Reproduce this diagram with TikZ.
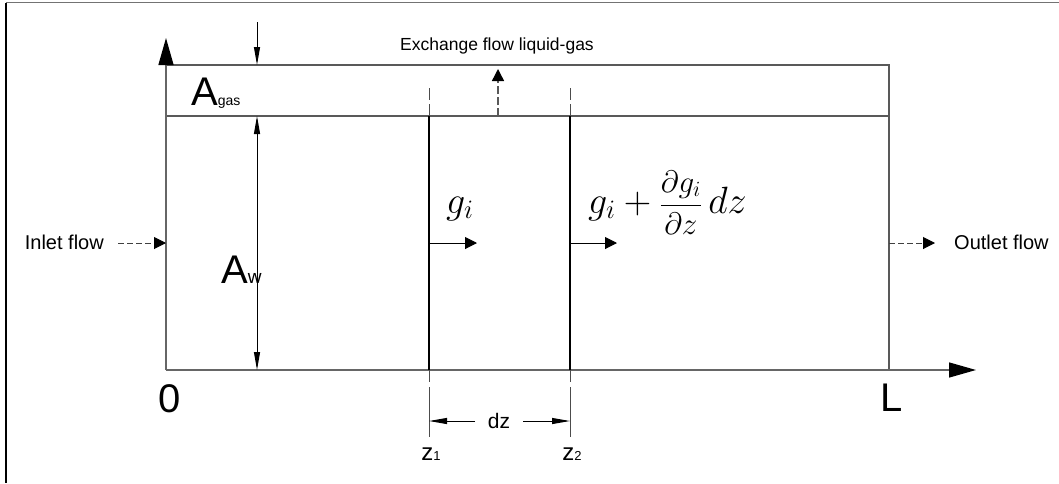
\RequirePackage{fix-cm}
\documentclass[tikz,border=0pt]{standalone}
\usepackage{fontspec}
\setmainfont{Liberation Sans}
\usetikzlibrary{arrows.meta}
\begin{document}
\begin{tikzpicture}[x=1pt,y=-1pt,
  boxline/.style={draw=black!65, line width=1.4pt},
  zline/.style={draw=black, line width=1.1pt},
  axisline/.style={draw=black!60, line width=1.4pt, -{Triangle[length=27pt,width=15pt,color=black]}},
  dimline/.style={draw=black, line width=1pt},
  dimtip/.tip={Triangle[length=18pt,width=6pt]},
  flowtip/.tip={Triangle[length=12pt,width=12pt,color=black]},
  flowarrow/.style={draw=black, line width=1pt, -flowtip},
  dashflow/.style={draw=black!75, line width=1pt, dash pattern=on 6pt off 3pt, -flowtip},
  extline/.style={draw=black!70, line width=0.9pt},
  lab/.style={inner sep=0pt, font=\fontsize{20}{22}\selectfont},
]
\useasboundingbox (0,0) rectangle (1059,483);
% outer frame
\draw[draw=black!55, line width=1.5pt] (1059,2.5) -- (6,2.5);
\draw[draw=black, line width=1.5pt] (6,2.5) -- (6,483);

% coordinates
\coordinate (O) at (166,370);
\coordinate (Xend) at (976,370);
\coordinate (Yend) at (166,38);
\coordinate (GT) at (166,65);
\coordinate (GTR) at (889,65);
\coordinate (ML) at (166,116);
\coordinate (MR) at (889,116);
\coordinate (BR) at (889,370);

% box
\draw[boxline] (GT) -- (GTR) -- (BR);
\draw[boxline] (ML) -- (MR);
\draw[axisline] (O) -- (Yend);
\draw[axisline] (O) -- (Xend);

% z lines
\coordinate (z1t) at (429,116); \coordinate (z1b) at (429,370);
\coordinate (z2t) at (570,116); \coordinate (z2b) at (570,370);
\draw[zline] (z1t) -- (z1b);
\draw[zline] (z2t) -- (z2b);
% extension lines
\coordinate (z1u) at (429,88); \coordinate (z1d) at (429,437);
\coordinate (z2u) at (570,88); \coordinate (z2d) at (570,437);
\draw[extline, dash pattern=on 12pt off 4pt on 30pt] (z1u) -- (z1t);
\draw[extline, dash pattern=on 12pt off 4pt on 30pt] (z2u) -- (z2t);
\draw[extline, dash pattern=on 12pt off 5pt on 70pt] (z1b) -- (z1d);
\draw[extline, dash pattern=on 12pt off 5pt on 70pt] (z2b) -- (z2d);

% dimension Agas / Aw
\coordinate (d0) at (257,22);
\coordinate (d1) at (257,65);
\coordinate (d2) at (257,116);
\coordinate (d3) at (257,370);
\draw[dimline, -dimtip] (d0) -- (d1);
\draw[dimline, dimtip-dimtip] (d2) -- (d3);

% dz dimension
\node[lab, font=\fontsize{21}{22}\selectfont] (dz) at (499,421) {dz};
\coordinate (dzl) at (429,421); \coordinate (dzr) at (570,421);
\coordinate (dza) at (475,421); \coordinate (dzb) at (523,421);
\draw[dimline, -dimtip] (dza) -- (dzl);
\draw[dimline, -dimtip] (dzb) -- (dzr);

% flows
\coordinate (g1a) at (429,243); \coordinate (g1b) at (477,243);
\coordinate (g2a) at (570,243); \coordinate (g2b) at (617,243);
\draw[flowarrow] (g1a) -- (g1b);
\draw[flowarrow] (g2a) -- (g2b);

\coordinate (inA) at (118,243); \coordinate (inB) at (166,243);
\draw[dashflow] (inA) -- (inB);
\coordinate (outA) at (889,243); \coordinate (outB) at (935,243);
\draw[dashflow] (outA) -- (outB);

\coordinate (exA) at (498,116); \coordinate (exB) at (498,69);
\draw[dashflow, draw=black!65, line width=1.4pt, dash pattern=on 8pt off 3pt] (exA) -- (exB);

% labels
\node[lab, font=\fontsize{17.5}{20}\selectfont] (ex) at (497,46) {Exchange flow liquid-gas};
\node[lab, anchor=east] (inlet) at (104,242) {Inlet flow};
\node[lab, anchor=west] (outlet) at (954,242) {Outlet flow};
\node[lab, anchor=base west] (Agas) at (191,105) {{\fontsize{40}{40}\selectfont A}{\fontsize{14}{14}\selectfont gas}};
\node[lab, anchor=base west] (Aw) at (221,283) {{\fontsize{40}{40}\selectfont A}{\fontsize{19}{19}\selectfont w}};
\node[lab, font=\fontsize{40}{40}\selectfont] (zero) at (170,399) {0};
\node[lab, font=\fontsize{40}{40}\selectfont] (Lab) at (892,398) {L};
\node[lab, anchor=base] (z1) at (431,460) {{\fontsize{24}{24}\selectfont z}{\fontsize{13}{13}\selectfont 1}};
\node[lab, anchor=base] (z2) at (572,460) {{\fontsize{24}{24}\selectfont z}{\fontsize{13}{13}\selectfont 2}};
\node[lab, anchor=base west, font=\fontsize{38}{40}\selectfont] (gi) at (446,213) {$g_i$};
\node[lab, anchor=base west, font=\fontsize{38}{40}\selectfont] (gdz) at (588,213)
  {$g_i+{}${\fontsize{31}{34}\selectfont$\displaystyle\frac{\partial g_i}{\partial z}$}\,$dz$};
\end{tikzpicture}
\end{document}
